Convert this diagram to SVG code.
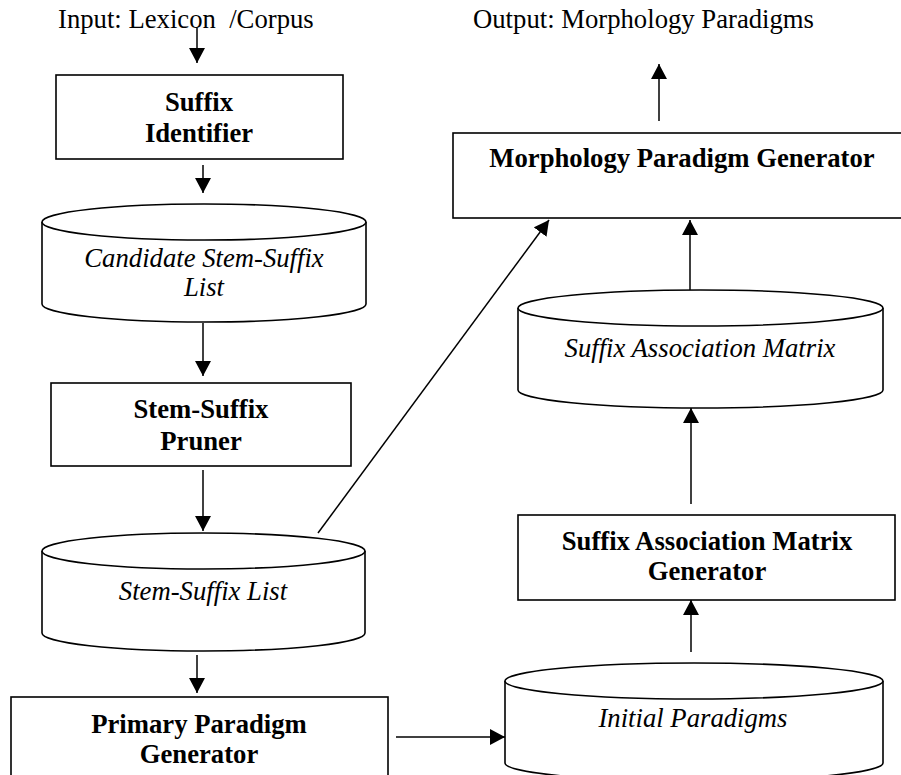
<svg xmlns="http://www.w3.org/2000/svg" width="901" height="775" viewBox="0 0 901 775">
<defs>
<style>
.box{fill:#fff;stroke:#000;stroke-width:1.6}
.cyl{fill:#fff;stroke:#000;stroke-width:1.6}
.t{font-family:"Liberation Serif","Times New Roman",serif;font-size:26.7px;fill:#000}
.b{font-weight:bold;text-anchor:middle}
.i{font-style:italic;text-anchor:middle}
.edge{stroke:#000;stroke-width:1.5;fill:none;marker-end:url(#ah)}
</style>
<marker id="ah" markerUnits="userSpaceOnUse" markerWidth="15" markerHeight="16" viewBox="0 0 15 16" refX="15" refY="8" orient="auto">
<path d="M0,0 L15,8 L0,16 Z" fill="#000"/>
</marker>
</defs>
<rect width="901" height="775" fill="#fff"/>
<text class="t" x="58" y="28" xml:space="preserve">Input: Lexicon  /Corpus</text>
<text class="t" x="473" y="28">Output: Morphology Paradigms</text>

<g id="suffix-identifier">
<rect class="box" x="56" y="75" width="287" height="84"/>
<text class="t b" x="199" y="111">Suffix</text>
<text class="t b" x="199" y="142">Identifier</text>
</g>

<g id="candidate-list">
<path class="cyl" d="M42,222 A162,18 0 0 1 366,222 L366,304 A162,18 0 0 1 42,304 Z"/>
<path class="cyl" fill="none" d="M42,222 A162,18 0 0 0 366,222"/>
<text class="t i" x="204" y="267">Candidate Stem-Suffix</text>
<text class="t i" x="204" y="296">List</text>
</g>

<g id="stem-suffix-pruner">
<rect class="box" x="51" y="383" width="300" height="83"/>
<text class="t b" x="201" y="418">Stem-Suffix</text>
<text class="t b" x="201" y="450">Pruner</text>
</g>

<g id="stem-suffix-list">
<path class="cyl" d="M42,551 A161.5,18 0 0 1 365,551 L365,633 A161.5,18 0 0 1 42,633 Z"/>
<path class="cyl" fill="none" d="M42,551 A161.5,18 0 0 0 365,551"/>
<text class="t i" x="203" y="600">Stem-Suffix List</text>
</g>

<g id="primary-paradigm-generator">
<rect class="box" x="11" y="697" width="377" height="90"/>
<text class="t b" x="199" y="733">Primary Paradigm</text>
<text class="t b" x="199" y="763">Generator</text>
</g>

<g id="initial-paradigms">
<path class="cyl" d="M505,681 A189,18 0 0 1 883,681 L883,763 A189,18 0 0 1 505,763 Z"/>
<path class="cyl" fill="none" d="M505,681 A189,18 0 0 0 883,681"/>
<text class="t i" x="693" y="727">Initial Paradigms</text>
</g>

<g id="sam-generator">
<rect class="box" x="518" y="515" width="377" height="85"/>
<text class="t b" x="707" y="550">Suffix Association Matrix</text>
<text class="t b" x="707" y="580">Generator</text>
</g>

<g id="suffix-association-matrix">
<path class="cyl" d="M518,308 A182.5,18 0 0 1 883,308 L883,390 A182.5,18 0 0 1 518,390 Z"/>
<path class="cyl" fill="none" d="M518,308 A182.5,18 0 0 0 883,308"/>
<text class="t i" x="700" y="357">Suffix Association Matrix</text>
</g>

<g id="morphology-paradigm-generator">
<rect class="box" x="453" y="133" width="452" height="85"/>
<text class="t b" x="682" y="167">Morphology Paradigm Generator</text>
</g>

<g id="connectors">
<line class="edge" x1="197" y1="28" x2="197" y2="63"/>
<line class="edge" x1="203" y1="165" x2="203" y2="193"/>
<line class="edge" x1="203" y1="323" x2="203" y2="376"/>
<line class="edge" x1="203" y1="470" x2="203" y2="531"/>
<line class="edge" x1="197" y1="655" x2="197" y2="693"/>
<line class="edge" x1="396" y1="737" x2="505" y2="737"/>
<line class="edge" x1="691" y1="652" x2="691" y2="600"/>
<line class="edge" x1="691" y1="504" x2="691" y2="408"/>
<line class="edge" x1="690" y1="290" x2="690" y2="220"/>
<line class="edge" x1="659" y1="121" x2="659" y2="64"/>
<line class="edge" x1="318" y1="533" x2="549" y2="220"/>
</g>
</svg>
